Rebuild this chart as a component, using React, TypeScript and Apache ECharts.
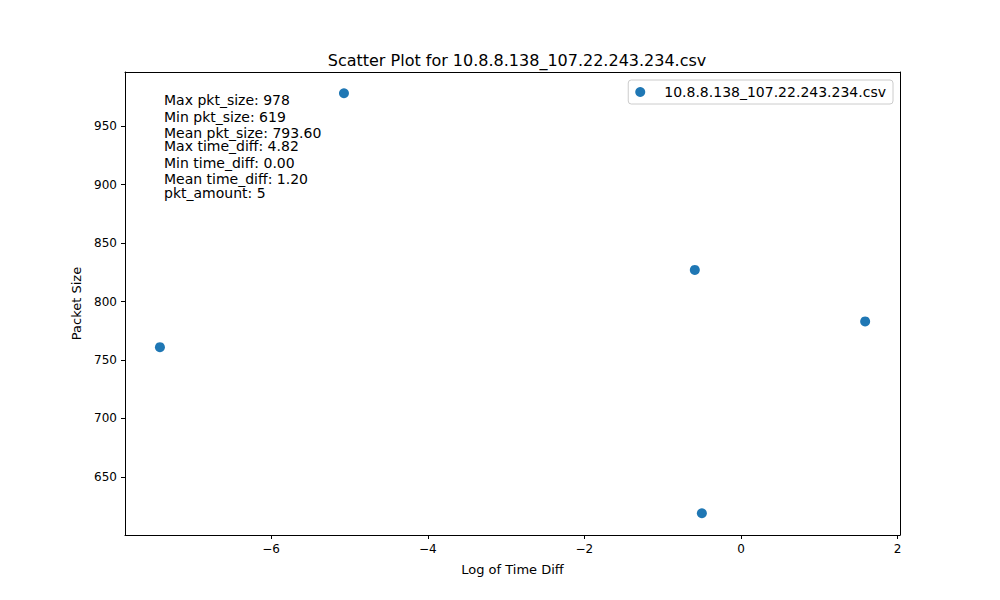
import { useEffect, useRef } from "react";
import * as echarts from "echarts";

const fileName = "10.8.8.138_107.22.243.234.csv";
const logTimeDiff = [-7.42, -5.07, -0.59, -0.5, 1.585];
const pktSize = [761, 978, 827, 619, 783];
const xTicks = [-6, -4, -2, 0, 2];
const yTicks = [650, 700, 750, 800, 850, 900, 950];
const statLines = [
  "Max pkt_size: 978",
  "Min pkt_size: 619",
  "Mean pkt_size: 793.60",
  "Max time_diff: 4.82",
  "Min time_diff: 0.00",
  "Mean time_diff: 1.20",
  "pkt_amount: 5",
];
const statY = [101, 118, 134, 147, 164, 180, 194];

const font = "DejaVu Sans";

export default function App() {
  const chartRef = useRef<HTMLDivElement>(null);

  useEffect(() => {
    if (!chartRef.current) return;
    const chart = echarts.init(chartRef.current, undefined, { renderer: "svg" });

    const axisCommon = {
      axisLine: { show: true, onZero: false, lineStyle: { color: "#000", width: 1 } },
      axisTick: { show: true, inside: false, length: 4, lineStyle: { color: "#000" } },
      splitLine: { show: false },
      nameLocation: "middle" as const,
      nameTextStyle: { color: "#000", fontFamily: font, fontSize: 13 },
      axisLabel: { color: "#000", fontFamily: font, fontSize: 12 },
    };
    const spine = {
      type: "value" as const,
      axisLine: { show: true, onZero: false, lineStyle: { color: "#000", width: 1 } },
      axisTick: { show: false },
      axisLabel: { show: false },
      splitLine: { show: false },
    };

    chart.setOption({
      animation: false,
      backgroundColor: "#fff",
      title: {
        text: "Scatter Plot for " + fileName,
        left: 512,
        top: 47,
        textAlign: "center",
        textStyle: { fontFamily: font, fontSize: 16, fontWeight: "normal", color: "#000" },
      },
      grid: { left: 125, right: 100, top: 72, bottom: 65 },
      xAxis: [
        {
          ...axisCommon,
          type: "value",
          min: -7.866,
          max: 2.03,
          name: "Log of Time Diff",
          nameGap: 28,
          axisTick: { ...axisCommon.axisTick, customValues: xTicks },
          axisLabel: { ...axisCommon.axisLabel, customValues: xTicks, formatter: (v: number) => (v < 0 ? "\u2212" + -v : String(v)) },
        },
        { ...spine, position: "top", min: 0, max: 1 },
      ],
      yAxis: [
        {
          ...axisCommon,
          type: "value",
          min: 600.4,
          max: 996.2,
          name: "Packet Size",
          nameGap: 42,
          axisTick: { ...axisCommon.axisTick, customValues: yTicks },
          axisLabel: { ...axisCommon.axisLabel, customValues: yTicks },
        },
        { ...spine, position: "right", min: 0, max: 1 },
      ],
      legend: {
        right: 107,
        top: 80,
        padding: [5, 7],
        borderColor: "#ccc",
        borderWidth: 1,
        borderRadius: 3,
        itemWidth: 10,
        itemHeight: 10,
        itemGap: 10,
        textStyle: { fontFamily: font, fontSize: 14, color: "#000", padding: [0, 0, 0, 14] },
        data: [{ name: fileName, icon: "circle" }],
      },
      graphic: statLines.map((t, i) => ({
        type: "text",
        left: 164,
        top: statY[i] - 8,
        style: { text: t, fill: "#000", font: `14px ${font}` },
      })),
      series: [
        {
          name: fileName,
          type: "scatter",
          symbolSize: 10,
          itemStyle: { color: "#1f77b4", opacity: 1 },
          data: logTimeDiff.map((x, i) => [x, pktSize[i]]),
        },
      ],
    });

    return () => chart.dispose();
  }, []);

  return <div ref={chartRef} style={{ width: 1000, height: 600, margin: -8 }} />;
}
